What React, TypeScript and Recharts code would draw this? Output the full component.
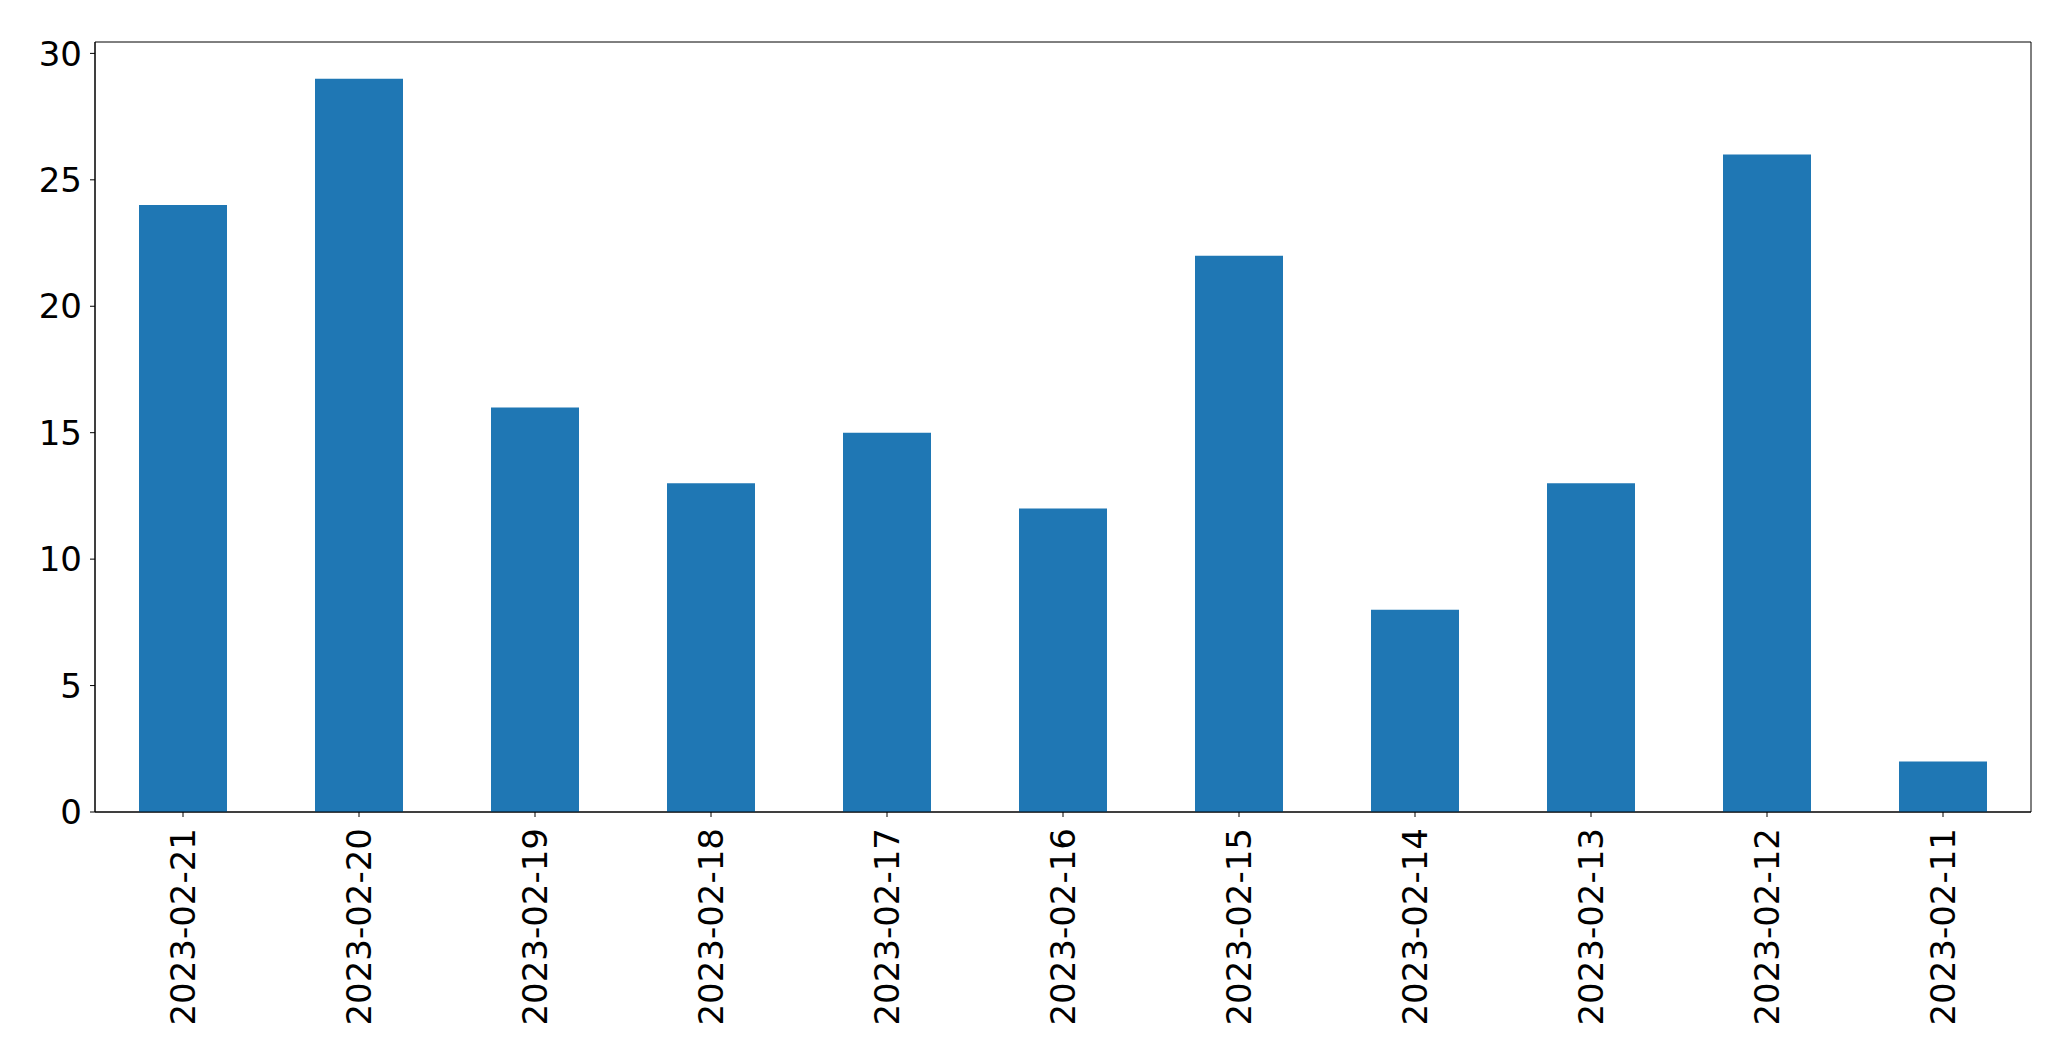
import React from "react";
import { BarChart, Bar, XAxis, YAxis, ReferenceArea } from "recharts";

const categories = [
  "2023-02-21", "2023-02-20", "2023-02-19", "2023-02-18", "2023-02-17", "2023-02-16",
  "2023-02-15", "2023-02-14", "2023-02-13", "2023-02-12", "2023-02-11",
];
const counts = [24, 29, 16, 13, 15, 12, 22, 8, 13, 26, 2];
const yTicks = [0, 5, 10, 15, 20, 25, 30];

const data = categories.map((c, i) => ({ date: c, count: counts[i] }));

const FONT = "'DejaVu Sans', sans-serif";

const XTick = (props: any) => {
  const { x, y, payload } = props;
  return (
    <text
      x={x}
      y={y}
      transform={`rotate(-90, ${x}, ${y})`}
      textAnchor="end"
      dy="0.35em"
      fontSize={34}
      fontFamily={FONT}
      fill="#000"
    >
      {payload.value}
    </text>
  );
};

const YTick = (props: any) => {
  const { x, y, payload } = props;
  return (
    <text
      x={x}
      y={y}
      textAnchor="end"
      dy="0.36em"
      fontSize={34}
      fontFamily={FONT}
      fill="#000"
    >
      {payload.value}
    </text>
  );
};

export default function App() {
  return (
    <div style={{ position: "absolute", left: 0, top: 0, background: "#fff" }}>
      <BarChart
        width={2071}
        height={1064}
        data={data}
        margin={{ top: 42, right: 40, bottom: 0, left: 0 }}
        barCategoryGap="25%"
      >
        <XAxis
          dataKey="date"
          height={252}
          interval={0}
          tickSize={5}
          tickMargin={11}
          tick={<XTick />}
          stroke="#000"
          axisLine={{ stroke: "#000", strokeWidth: 1 }}
          tickLine={{ stroke: "#000", strokeWidth: 1 }}
        />
        <YAxis
          width={95}
          domain={[0, 30.45]}
          ticks={yTicks}
          allowDataOverflow
          tickSize={5}
          tickMargin={8}
          tick={<YTick />}
          stroke="#000"
          axisLine={{ stroke: "#000", strokeWidth: 1 }}
          tickLine={{ stroke: "#000", strokeWidth: 1 }}
        />
        <Bar dataKey="count" fill="#1f77b4" isAnimationActive={false} />
        <ReferenceArea
          y1={0}
          y2={30.45}
          fill="none"
          fillOpacity={0}
          stroke="#000"
          strokeWidth={1}
          ifOverflow="visible"
        />
      </BarChart>
    </div>
  );
}
